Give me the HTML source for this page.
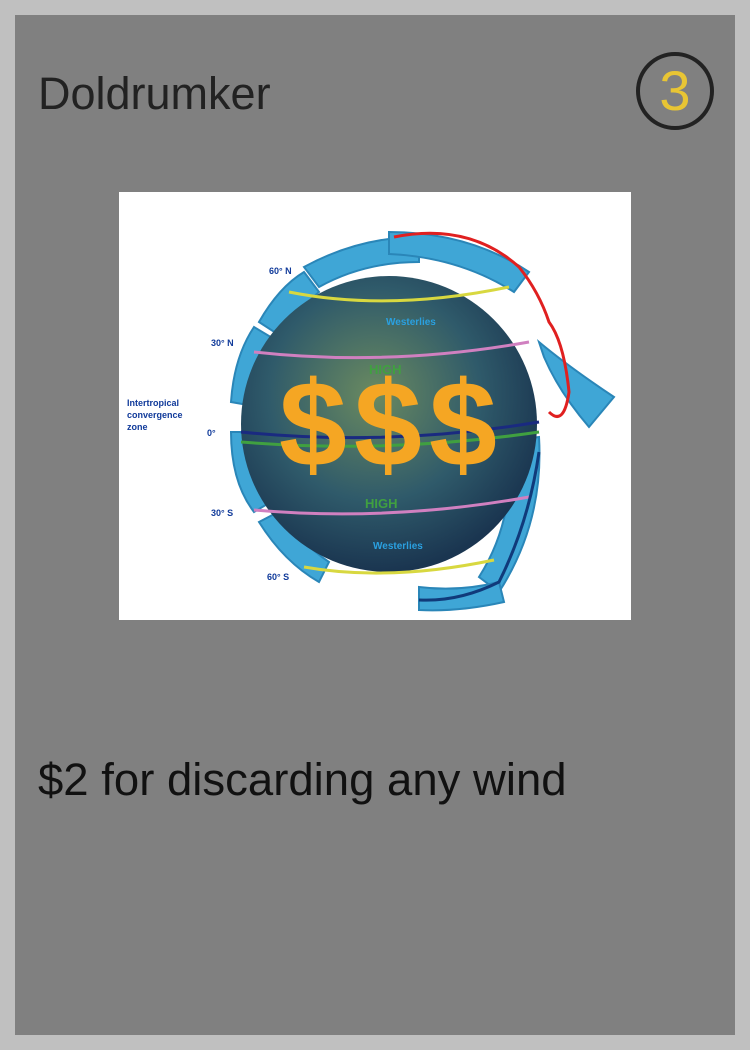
<!DOCTYPE html>
<html><head><meta charset="utf-8"><style>
html,body{margin:0;padding:0;}
body{width:750px;height:1050px;background:#c0c0c0;position:relative;overflow:hidden;font-family:"Liberation Sans",sans-serif;}
#card{position:absolute;left:15px;top:15px;width:720px;height:1020px;background:#808080;}
#title{position:absolute;left:38px;top:68px;font-size:45px;color:#222;line-height:52px;}
#cost{position:absolute;left:636px;top:52px;width:70px;height:70px;border:4px solid #222;border-radius:50%;color:#e8c534;font-size:56px;text-align:center;line-height:70px;}
#art{position:absolute;left:119px;top:192px;width:512px;height:428px;background:#fff;}
#desc{position:absolute;left:38px;top:752px;font-size:45.5px;color:#111;line-height:56px;}
</style></head><body>
<div id="card"></div>
<div id="title">Doldrumker</div>
<div id="cost">3</div>
<svg id="art" viewBox="0 0 512 428" width="512" height="428">
  <defs>
    <radialGradient id="g" cx="0.45" cy="0.4" r="0.6">
      <stop offset="0" stop-color="#6a8a60"/><stop offset="0.6" stop-color="#2f5a6a"/><stop offset="1" stop-color="#1a3550"/>
    </radialGradient>
  </defs>
  <g fill="#3fa6d6" stroke="#2a86b8" stroke-width="2">
    <path d="M185 75 Q240 45 300 45 L300 70 Q245 70 200 95 Z"/>
    <path d="M140 130 Q160 95 185 80 L200 100 Q178 118 163 145 Z"/>
    <path d="M112 210 Q115 165 135 135 L160 150 Q142 180 140 215 Z"/>
    <path d="M112 240 Q112 290 135 320 L160 305 Q142 275 140 240 Z"/>
    <path d="M140 330 Q165 370 200 390 L210 370 Q180 350 163 318 Z"/>
    <path d="M380 250 L420 245 Q425 330 380 400 L360 385 Q395 330 390 260 Z"/>
    <path d="M300 395 Q340 400 380 390 L385 410 Q340 420 300 418 Z"/>
    <path d="M270 40 Q350 40 410 80 L395 100 Q340 65 270 62 Z"/>
    <path d="M420 150 Q450 175 495 205 L470 235 Q440 200 425 165 Z"/>
  </g>
  <circle cx="270" cy="232" r="148" fill="url(#g)"/>
  <g fill="none" stroke-width="3">
    <path d="M170 100 Q270 120 390 95" stroke="#d8d840"/>
    <path d="M135 160 Q270 175 410 150" stroke="#d080c0"/>
    <path d="M122 240 Q270 255 420 230" stroke="#1a2a80"/>
    <path d="M122 250 Q270 262 420 240" stroke="#40a040"/>
    <path d="M135 318 Q270 330 410 305" stroke="#d080c0"/>
    <path d="M185 375 Q270 390 375 368" stroke="#d8d840"/>
  </g>
  <path d="M275 45 Q350 30 400 75 Q420 100 430 130 Q445 150 450 200 Q445 235 430 220" fill="none" stroke="#e02020" stroke-width="3"/>
  <path d="M420 260 Q410 330 380 390 Q340 410 300 408" fill="none" stroke="#103a7a" stroke-width="3"/>
  <g font-family="Liberation Sans,sans-serif" font-weight="bold" font-size="9" fill="#103a9a">
    <text x="150" y="82">60° N</text><text x="92" y="154">30° N</text>
    <text x="8" y="214">Intertropical</text><text x="8" y="226">convergence</text><text x="8" y="238">zone</text>
    <text x="88" y="244">0°</text><text x="92" y="324">30° S</text><text x="148" y="388">60° S</text>
  </g>
  <g font-family="Liberation Sans,sans-serif" font-weight="bold" font-size="10" fill="#2aa0e0">
    <text x="267" y="133">Westerlies</text><text x="254" y="357">Westerlies</text>
  </g>
  <g font-family="Liberation Sans,sans-serif" font-weight="bold" font-size="13" fill="#40a040">
    <text x="250" y="182">HIGH</text><text x="246" y="316">HIGH</text>
  </g>
  <g font-family="Liberation Sans,sans-serif" font-weight="bold" font-size="122" fill="#f5a623">
    <text x="160" y="274">$</text><text x="235" y="274">$</text><text x="310" y="274">$</text>
  </g>
</svg>
<div id="desc">$2 for discarding any wind</div>
</body></html>
